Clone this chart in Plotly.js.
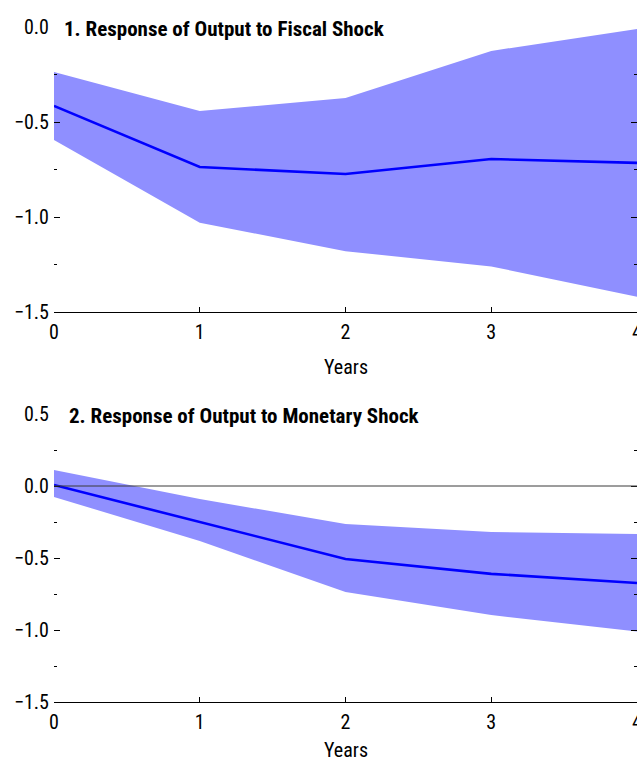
<!DOCTYPE html>
<html>
<head>
<meta charset="utf-8">
<script src="https://cdn.plot.ly/plotly-3.0.1.min.js"></script>
<style>
html,body{margin:0;padding:0;overflow:hidden;background:#fff;}
#chart{width:700px;height:760px;}
svg text{font-stretch:condensed !important;}
</style>
</head>
<body>
<div id="chart"></div>
<script>
const years = [0, 1, 2, 3, 4];
const fiscalMean  = [-0.415, -0.737, -0.774, -0.695, -0.715];
const fiscalUpper = [-0.237, -0.442, -0.374, -0.126, -0.010];
const fiscalLower = [-0.595, -1.030, -1.180, -1.260, -1.420];
const monetaryMean  = [0.007, -0.250, -0.507, -0.610, -0.674];
const monetaryUpper = [0.111, -0.090, -0.264, -0.319, -0.333];
const monetaryLower = [-0.076, -0.382, -0.736, -0.896, -1.010];
const xTickVals = [0, 1, 2, 3, 4];
const titles = ['1. Response of Output to Fiscal Shock', '2. Response of Output to Monetary Shock'];
const xTitle = 'Years';

const FONT = '"Roboto Condensed", "Liberation Sans Narrow", "Noto Sans", sans-serif';
const bandColor = 'rgb(143,143,255)';
const lineColor = 'rgb(0,0,255)';

function band(lower, upper, xa, ya) {
  return [
    {x: years, y: lower, xaxis: xa, yaxis: ya, mode: 'lines', line: {width: 0, color: bandColor}, showlegend: false, hoverinfo: 'skip'},
    {x: years, y: upper, xaxis: xa, yaxis: ya, mode: 'lines', line: {width: 0, color: bandColor}, fill: 'tonexty', fillcolor: bandColor, showlegend: false, hoverinfo: 'skip'}
  ];
}
function meanLine(vals, xa, ya) {
  return {x: years, y: vals, xaxis: xa, yaxis: ya, mode: 'lines', line: {width: 2.6, color: lineColor}, showlegend: false};
}

const data = [
  ...band(fiscalLower, fiscalUpper, 'x', 'y'),
  meanLine(fiscalMean, 'x', 'y'),
  ...band(monetaryLower, monetaryUpper, 'x2', 'y2'),
  meanLine(monetaryMean, 'x2', 'y2')
];

function xAxis(anchor) {
  return {
    anchor: anchor, domain: [4/587, 1], range: [0, 4],
    tickvals: xTickVals, ticks: 'inside', ticklen: 5, tickcolor: '#000', tickwidth: 1,
    showline: true, linecolor: '#000', linewidth: 1, mirror: false,
    showgrid: false, zeroline: false, ticklabelstandoff: 2,
    tickfont: {family: FONT, size: 20, color: '#000'},
    automargin: false
  };
}
function yAxis(anchor, domain, range) {
  return {
    anchor: anchor, domain: domain, range: range,
    dtick: 0.5, tick0: 0, tickformat: '.1f',
    ticks: 'inside', ticklen: 6, tickcolor: '#000', tickwidth: 1,
    minor: {dtick: 0.25, tick0: 0, ticks: 'inside', ticklen: 3, tickcolor: '#000', tickwidth: 1, showgrid: false},
    mirror: 'ticks', showline: false, ticklabelstandoff: 4,
    showgrid: false, zeroline: false,
    tickfont: {family: FONT, size: 20, color: '#000'},
    automargin: false
  };
}

const layout = {
  width: 700, height: 760,
  margin: {l: 50, r: 63, t: 0, b: 0},
  paper_bgcolor: '#fff', plot_bgcolor: '#fff',
  font: {family: FONT, color: '#000'},
  showlegend: false,
  xaxis: xAxis('y'),
  yaxis: yAxis('x', [1 - 312/760, 1 - 27/760], [-1.5, 0]),
  xaxis2: xAxis('y2'),
  yaxis2: yAxis('x2', [1 - 702/760, 1 - 414/760], [-1.5, 0.5]),
  shapes: [
    {type: 'line', xref: 'x2 domain', yref: 'y2', x0: 0, x1: 1, y0: 0, y1: 0, line: {color: '#3a3a3a', width: 1}, layer: 'above'}
  ],
  annotations: [
    {text: '<b>' + titles[0] + '</b>', xref: 'x domain', yref: 'y domain', x: 8/583, y: 1, yshift: -2, xanchor: 'left', yanchor: 'middle', showarrow: false, font: {family: FONT, size: 21, color: '#000'}},
    {text: '<b>' + titles[1] + '</b>', xref: 'x2 domain', yref: 'y2 domain', x: 13/583, y: 1, yshift: -2, xanchor: 'left', yanchor: 'middle', showarrow: false, font: {family: FONT, size: 21, color: '#000'}},
    {text: xTitle, xref: 'x domain', yref: 'y domain', x: 0.5, y: 0, yshift: -41, xanchor: 'center', yanchor: 'top', showarrow: false, font: {family: FONT, size: 20, color: '#000'}},
    {text: xTitle, xref: 'x2 domain', yref: 'y2 domain', x: 0.5, y: 0, yshift: -34, xanchor: 'center', yanchor: 'top', showarrow: false, font: {family: FONT, size: 20, color: '#000'}}
  ]
};

Plotly.newPlot('chart', data, layout, {displayModeBar: false, staticPlot: true});
</script>
</body>
</html>
